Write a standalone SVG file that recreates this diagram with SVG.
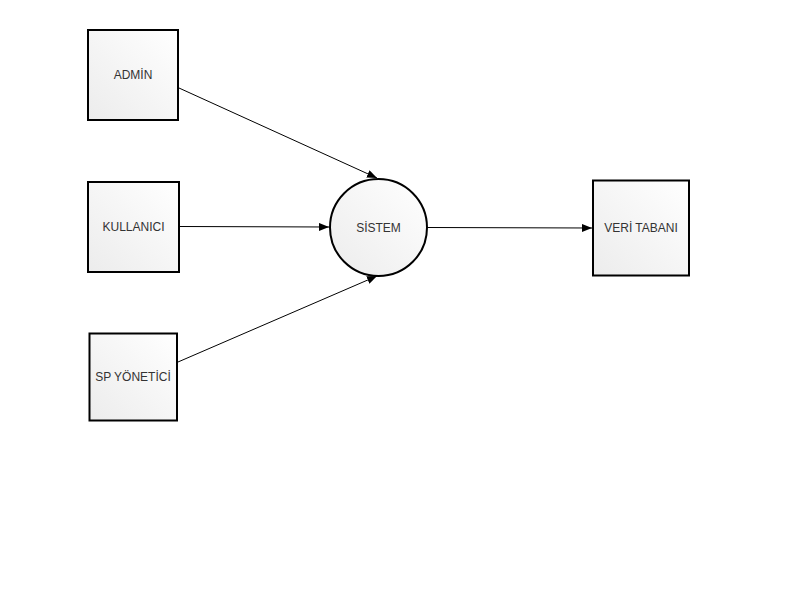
<svg xmlns="http://www.w3.org/2000/svg" width="800" height="600" viewBox="0 0 800 600">
<style>
.n{stroke:#000;stroke-width:2;fill:url(#g)}
.t{font-family:"Liberation Sans",Arial,sans-serif;font-size:12px;fill:#333;text-anchor:middle;dominant-baseline:central}
.c{stroke:#000;stroke-width:1;fill:none;marker-end:url(#a)}
</style>
<defs>
<linearGradient id="g" x1="1" y1="0" x2="0" y2="1">
<stop offset="0" stop-color="#ffffff"/>
<stop offset="1" stop-color="#ececec"/>
</linearGradient>
<marker id="a" viewBox="0 0 10 8" refX="10" refY="4" markerWidth="10" markerHeight="8" markerUnits="userSpaceOnUse" orient="auto">
<path d="M0,0 L10,4 L0,8 Z" fill="#000"/>
</marker>
</defs>
<rect width="800" height="600" fill="#fff"/>
<g id="connectors">
<line class="c" x1="179" y1="88" x2="377" y2="178"/>
<line class="c" x1="180" y1="226.5" x2="329" y2="227"/>
<line class="c" x1="178" y1="362" x2="377" y2="276"/>
<line class="c" x1="428" y1="227.5" x2="592" y2="228"/>
</g>
<g id="admin">
<rect class="n" x="88" y="30" width="90" height="90"/>
<text class="t" x="133" y="75">ADMİN</text>
</g>
<g id="kullanici">
<rect class="n" x="88" y="182" width="91" height="90"/>
<text class="t" x="133.5" y="227">KULLANICI</text>
</g>
<g id="spyonetici">
<rect class="n" x="89.5" y="333.5" width="87.5" height="87"/>
<text class="t" x="133" y="377">SP YÖNETİCİ</text>
</g>
<g id="sistem">
<circle class="n" cx="378.5" cy="227.5" r="48.5"/>
<text class="t" x="378.5" y="227.5">SİSTEM</text>
</g>
<g id="veritabani">
<rect class="n" x="593" y="180.5" width="96" height="95"/>
<text class="t" x="641" y="228">VERİ TABANI</text>
</g>
</svg>
